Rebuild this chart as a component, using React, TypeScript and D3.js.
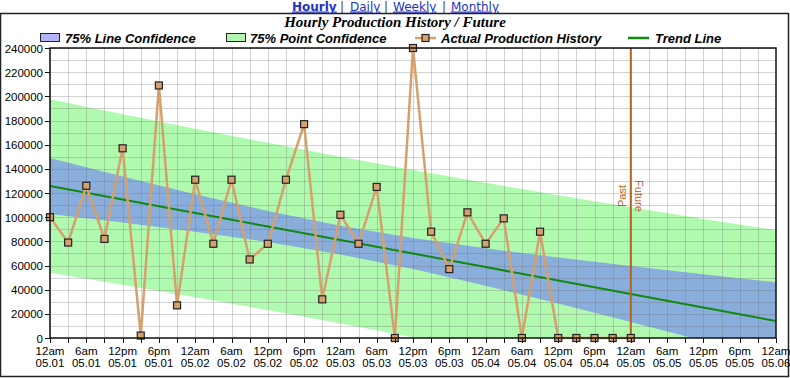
import React from "react";
import * as d3 from "d3";

const W = 790;
const H = 378;

// Actual production, every 3 hours from 12am 05.01
const hours = [0, 3, 6, 9, 12, 15, 18, 21, 24, 27, 30, 33, 36, 39, 42, 45, 48, 51, 54, 57, 60, 63, 66, 69, 72, 75, 78, 81, 84, 87, 90, 93, 96];
const production = [100000, 79000, 126000, 82000, 157000, 2000, 209000, 27000, 131000, 78000, 131000, 65000, 78000, 131000, 177000, 32000, 102000, 78000, 125000, 0, 240000, 88000, 57000, 104000, 78000, 99000, 0, 88000, 0, 0, 0, 0, 0];

// Bands and trend, read every 12 hours
const bandHours = [0, 12, 24, 36, 48, 60, 72, 84, 96, 108, 120];
const trend = [125800, 114600, 103400, 92300, 81100, 69900, 58700, 47500, 36400, 25200, 14000];
const lineConfUpper = [149000, 133700, 118900, 105100, 92900, 82700, 74200, 66600, 59500, 52700, 46100];
const lineConfLower = [102700, 95600, 88000, 79400, 69200, 57100, 43300, 28500, 13200, -2400, -18100];
const pointConfUpper = [197600, 185200, 173200, 161500, 150100, 139100, 128500, 118200, 108200, 98500, 89200];
const pointConfLower = [54000, 44000, 33700, 23100, 12100, 700, -11000, -23100, -35500, -48200, -61200];

const yTicks = [0, 20000, 40000, 60000, 80000, 100000, 120000, 140000, 160000, 180000, 200000, 220000, 240000];
const timeLabels = ["12am", "6am", "12pm", "6pm"];
const dateLabels = ["05.01", "05.02", "05.03", "05.04", "05.05", "05.06"];
const pastFutureHour = 96;

const navLinks = ["Hourly", "Daily", "Weekly", "Monthly"];

export default function App() {
  const left = 50, right = 776, top = 48, bottom = 338;
  const x = d3.scaleLinear().domain([0, 120]).range([left, right]);
  const y = d3.scaleLinear().domain([0, 240000]).range([bottom, top]);
  const px = (v: number) => Math.round(v) + 0.5;

  const bandIdx = bandHours.map((_, i) => i);
  const area = (up: number[], lo: number[]) =>
    d3.area<number>().x((i) => x(bandHours[i])).y0((i) => y(lo[i])).y1((i) => y(up[i]))(bandIdx) || "";
  const trendPath = d3.line<number>().x((i) => x(bandHours[i])).y((i) => y(trend[i]))(bandIdx) || "";
  const prodIdx = hours.map((_, i) => i);
  const prodPath = d3.line<number>().x((i) => x(hours[i])).y((i) => y(production[i]))(prodIdx) || "";

  const gridX = d3.range(0, 121, 3);
  const gridY = d3.range(0, 240001, 10000);
  const xLabelHours = d3.range(0, 121, 6);

  const sans = "'Liberation Sans', Arial, sans-serif";
  const navFont = "'DejaVu Sans', Verdana, sans-serif";
  const prodColor = "#d6a06c";
  const pastColor = "#b5651d";
  const gridColor = "rgba(110,110,110,0.3)";

  const navX = [292, 350, 393, 451];
  const sepX = [340, 384, 442];

  return (
    <svg width={W} height={H} style={{ position: "absolute", left: 0, top: 0, display: "block" }}>
      <rect x={0} y={0} width={W} height={H} fill="white" />
      {/* Nav links */}
      <g fontFamily={navFont} fontSize={12}>
        {navLinks.map((t, i) => (
          <text key={t} x={navX[i]} y={10.5} fill="#2233cc" fontWeight={i === 0 ? "bold" : "normal"}
            textDecoration="underline">{t}</text>
        ))}
        {sepX.map((sx, i) => (
          <text key={"s" + i} x={sx} y={10.5} fill="#444">|</text>
        ))}
      </g>
      {/* Outer frame */}
      <rect x={0.5} y={13.5} width={788} height={363} fill="none" stroke="#222" strokeWidth={1.5} />
      {/* Title */}
      <text x={395} y={27} textAnchor="middle" fontFamily="'Liberation Serif', 'Times New Roman', serif"
        fontSize={15} fontWeight="bold" fontStyle="italic">Hourly Production History / Future</text>
      {/* Legend */}
      <g fontFamily={sans} fontSize={13} fontWeight="bold" fontStyle="italic">
        <rect x={40.5} y={33.5} width={19} height={8} fill="#b4b4f8" stroke="#222" />
        <text x={65} y={42.5}>75% Line Confidence</text>
        <rect x={226.5} y={33.5} width={19} height={8} fill="#b0f8b0" stroke="#222" />
        <text x={250} y={42.5}>75% Point Confidence</text>
        <line x1={415} x2={436} y1={38} y2={38} stroke={prodColor} strokeWidth={2.5} />
        <rect x={422} y={34.5} width={7} height={7} fill={prodColor} stroke="#222" strokeWidth={1.2} />
        <text x={441} y={42.5}>Actual Production History</text>
        <line x1={628} x2={649} y1={38} y2={38} stroke="#118811" strokeWidth={2.5} />
        <text x={655} y={42.5}>Trend Line</text>
      </g>
      <defs>
        <clipPath id="plotClip">
          <rect x={left} y={top} width={right - left} height={bottom - top} />
        </clipPath>
      </defs>
      <g clipPath="url(#plotClip)">
        <path d={area(pointConfUpper, pointConfLower)} fill="#b0fab0" />
        <path d={area(lineConfUpper, lineConfLower)} fill="#8aaedc" />
        {gridX.map((h) => (
          <line key={"gx" + h} x1={px(x(h))} x2={px(x(h))} y1={top} y2={bottom} stroke={gridColor} strokeWidth={1} />
        ))}
        {gridY.map((v) => (
          <line key={"gy" + v} x1={left} x2={right} y1={px(y(v))} y2={px(y(v))} stroke={gridColor} strokeWidth={1} />
        ))}
        <path d={trendPath} fill="none" stroke="#118811" strokeWidth={2} />
      </g>
      {/* Past / Future */}
      <line x1={x(pastFutureHour)} x2={x(pastFutureHour)} y1={top} y2={bottom} stroke={pastColor} strokeWidth={2} />
      <text transform={`translate(${x(pastFutureHour) - 5},196) rotate(-90)`} textAnchor="middle"
        fontFamily={sans} fontSize={11} fill={pastColor}>Past</text>
      <text transform={`translate(${x(pastFutureHour) + 4},196) rotate(90)`} textAnchor="middle"
        fontFamily={sans} fontSize={11} fill={pastColor}>Future</text>
      {/* Production line */}
      <path d={prodPath} fill="none" stroke={prodColor} strokeWidth={2.5} />
      {hours.map((h, i) => (
        <rect key={"m" + i} x={x(h) - 3.5} y={y(production[i]) - 3.5} width={7} height={7}
          fill={prodColor} stroke="#222" strokeWidth={1.2} />
      ))}
      {/* Plot frame */}
      <rect x={left} y={top} width={right - left} height={bottom - top} fill="none" stroke="#111" strokeWidth={1.5} />
      {/* Y axis */}
      <g fontFamily={sans} fontSize={11.5}>
        {yTicks.map((v) => (
          <g key={"yt" + v}>
            <line x1={left - 5} x2={left} y1={px(y(v))} y2={px(y(v))} stroke="#111" />
            <text x={left - 7} y={y(v) + 4.5} textAnchor="end">{v}</text>
          </g>
        ))}
      </g>
      {/* X axis */}
      <g fontFamily={sans} fontSize={11.5}>
        {gridX.map((h) => (
          <line key={"xt" + h} x1={px(x(h))} x2={px(x(h))} y1={bottom} y2={bottom + 5} stroke="#111" />
        ))}
        {xLabelHours.map((h) => (
          <g key={"xl" + h}>
            <text x={x(h)} y={bottom + 17} textAnchor="middle">{timeLabels[(h / 6) % 4]}</text>
            <text x={x(h)} y={bottom + 29} textAnchor="middle">{dateLabels[Math.floor(h / 24)]}</text>
          </g>
        ))}
      </g>
    </svg>
  );
}
